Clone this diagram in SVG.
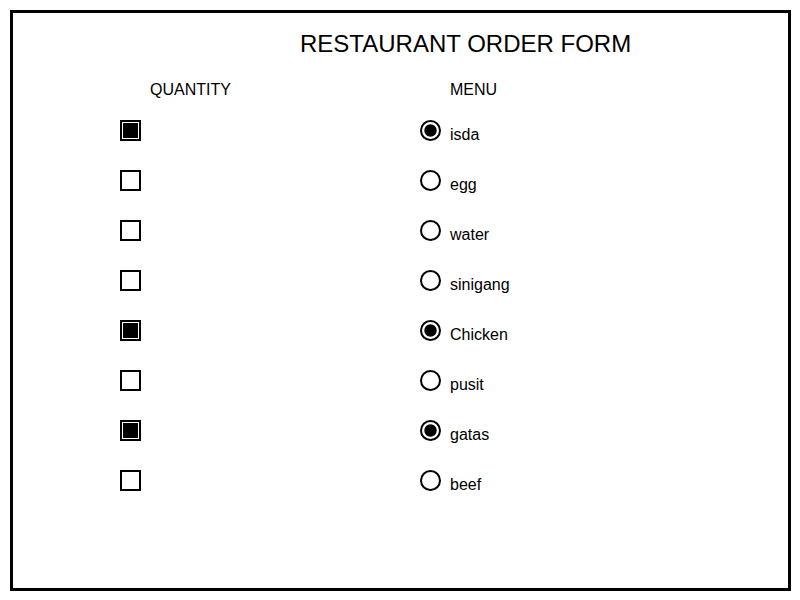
<svg xmlns="http://www.w3.org/2000/svg" width="800" height="600" viewBox="0 0 800 600">
<style>
.t{font-family:"Liberation Sans",Arial,sans-serif;fill:#000}
.box{fill:none;stroke:#000;stroke-width:2}
.fill{fill:#000}
.rad{fill:none;stroke:#000;stroke-width:2}
</style>
<rect width="800" height="600" fill="#fff"/>
<rect id="frame" x="11.5" y="11.5" width="778" height="578" fill="none" stroke="#000" stroke-width="3"/>
<text class="t" x="300" y="52" font-size="24">RESTAURANT ORDER FORM</text>
<text class="t" x="150" y="95" font-size="16">QUANTITY</text>
<text class="t" x="450" y="95" font-size="16">MENU</text>
<g id="quantity">
<g id="q1"><rect class="box" x="121" y="121" width="19" height="19"/><rect class="fill" x="123" y="123" width="15" height="15"/></g>
<g id="q2"><rect class="box" x="121" y="171" width="19" height="19"/></g>
<g id="q3"><rect class="box" x="121" y="221" width="19" height="19"/></g>
<g id="q4"><rect class="box" x="121" y="271" width="19" height="19"/></g>
<g id="q5"><rect class="box" x="121" y="321" width="19" height="19"/><rect class="fill" x="123" y="323" width="15" height="15"/></g>
<g id="q6"><rect class="box" x="121" y="371" width="19" height="19"/></g>
<g id="q7"><rect class="box" x="121" y="421" width="19" height="19"/><rect class="fill" x="123" y="423" width="15" height="15"/></g>
<g id="q8"><rect class="box" x="121" y="471" width="19" height="19"/></g>
</g>
<g id="menu">
<g id="m1"><circle class="rad" cx="430.5" cy="130.5" r="9.5"/><circle class="fill" cx="430.5" cy="130.5" r="6.2"/><text class="t" x="450" y="140" font-size="16">isda</text></g>
<g id="m2"><circle class="rad" cx="430.5" cy="180.5" r="9.5"/><text class="t" x="450" y="190" font-size="16">egg</text></g>
<g id="m3"><circle class="rad" cx="430.5" cy="230.5" r="9.5"/><text class="t" x="450" y="240" font-size="16">water</text></g>
<g id="m4"><circle class="rad" cx="430.5" cy="280.5" r="9.5"/><text class="t" x="450" y="290" font-size="16">sinigang</text></g>
<g id="m5"><circle class="rad" cx="430.5" cy="330.5" r="9.5"/><circle class="fill" cx="430.5" cy="330.5" r="6.2"/><text class="t" x="450" y="340" font-size="16">Chicken</text></g>
<g id="m6"><circle class="rad" cx="430.5" cy="380.5" r="9.5"/><text class="t" x="450" y="390" font-size="16">pusit</text></g>
<g id="m7"><circle class="rad" cx="430.5" cy="430.5" r="9.5"/><circle class="fill" cx="430.5" cy="430.5" r="6.2"/><text class="t" x="450" y="440" font-size="16">gatas</text></g>
<g id="m8"><circle class="rad" cx="430.5" cy="480.5" r="9.5"/><text class="t" x="450" y="490" font-size="16">beef</text></g>
</g>
<g id="connectors"/>
</svg>
